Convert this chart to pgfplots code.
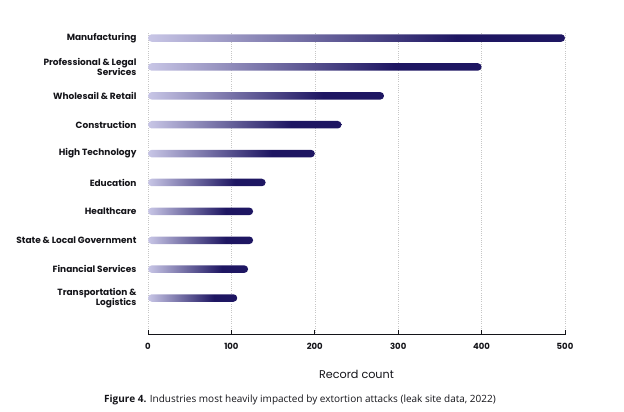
\documentclass[border=0pt]{standalone}
\usepackage{fontspec}
\setmainfont{Poppins}
\newfontfamily\capfont{Open Sans}
\usepackage{pgfplots}
\pgfplotsset{compat=1.18}
\definecolor{barlight}{RGB}{200,198,230}
\definecolor{bardark}{RGB}{30,22,98}
\definecolor{txt}{RGB}{20,20,25}
\pgfdeclarehorizontalshading{barshade}{100bp}{color(0bp)=(barlight); color(25bp)=(barlight); color(62bp)=(bardark); color(100bp)=(bardark)}
\pgfplotsset{mybar/.style={xbar, bar shift=0pt, bar width=7.5pt, draw=none, shading=barshade, rounded corners=3.7pt, forget plot}}
\begin{document}
\begin{tikzpicture}[x=1pt,y=1pt]
\path[use as bounding box] (0,0) rectangle (624,412);
\begin{axis}[
  at={(148pt,77pt)}, anchor=south west,
  scale only axis, width=417pt, height=303pt,
  xmin=0, xmax=500, ymin=-1.28, ymax=9.21,
  xbar, bar width=7.5pt,
  axis x line*=bottom, axis y line*=left,
  y axis line style={draw=none},
  x axis line style={draw=txt, line width=1pt, -},
  xtick={0,100,...,500},
  xtick align=inside,
  major tick length=5pt,
  xtick style={draw=txt, line width=1pt},
  ytick style={draw=none},
  xmajorgrids,
  major grid style={dash pattern=on 0.6pt off 1.6pt, line width=0.5pt, gray!45},
  ytick={0,...,9},
  yticklabels={{Transportation \&\\Logistics},{Financial Services},{State \& Local Government},{Healthcare},{Education},{High Technology},{Construction},{Wholesail \& Retail},{Professional \& Legal\\Services},{Manufacturing}},
  yticklabel style={align=right, font=\bfseries\fontsize{9}{10.5}\selectfont, text=txt, xshift=-3pt},
  xticklabel style={font=\bfseries\fontsize{8.5}{10}\selectfont, text=txt, yshift=-5pt},
  /pgf/number format/assume math mode=true,
  xlabel={Record count},
  xlabel style={font=\fontsize{11.2}{12}\selectfont, text=txt, yshift=-13pt},
]
\addplot[mybar] coordinates {(107,0)};
\addplot[mybar] coordinates {(120,1)};
\addplot[mybar] coordinates {(126,2)};
\addplot[mybar] coordinates {(126,3)};
\addplot[mybar] coordinates {(141,4)};
\addplot[mybar] coordinates {(200,5)};
\addplot[mybar] coordinates {(232,6)};
\addplot[mybar] coordinates {(283,7)};
\addplot[mybar] coordinates {(400,8)};
\addplot[mybar] coordinates {(500,9)};
\end{axis}
\node[anchor=west, font=\capfont\fontsize{10}{12}\selectfont, text=txt, inner sep=0pt] at (104,12) {\textbf{Figure 4.} Industries most heavily impacted by extortion attacks (leak site data, 2022)};
\end{tikzpicture}
\end{document}
